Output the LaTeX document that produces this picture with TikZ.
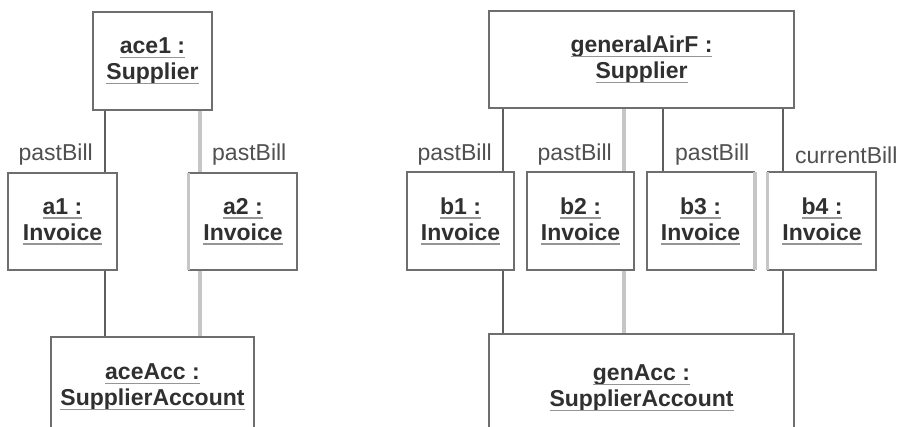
\documentclass[tikz,border=0pt]{standalone}
\usepackage{fontspec}
\setmainfont{Liberation Sans}

\definecolor{boxline}{HTML}{6E6E6E}
\definecolor{darkconn}{HTML}{5E5E5E}
\definecolor{lightconn}{HTML}{C6C6C6}
\definecolor{ink}{HTML}{303030}
\definecolor{labelink}{HTML}{505050}
\definecolor{ulcol}{HTML}{959595}

% object name with a grey underline
\newcommand\objname[1]{\setbox0\hbox{#1}\rlap{\copy0}{\color{ulcol}\rule[-4.5pt]{\wd0}{1.3pt}}}

\tikzset{
  objbox/.style={draw=boxline, line width=1.5pt, fill=white, inner sep=0pt,
    align=center, text=ink, font=\bfseries\fontsize{23}{26}\selectfont},
  darkline/.style={draw=darkconn, line width=1.5pt},
  lightline/.style={draw=lightconn, line width=4pt},
  lightedge/.style={draw=lightconn, line width=3.5pt},
  rolelabel/.style={text=labelink, inner sep=0pt, font=\fontsize{23}{26}\selectfont}
}

\begin{document}
\begin{tikzpicture}[x=1pt, y=-1pt]
\useasboundingbox (0,0) rectangle (902,427);
\clip (0,0) rectangle (902,427);
\fill[white] (0,0) rectangle (902,427);

% ---- supplier ace1 and its invoices
\node[objbox, minimum width=119pt, minimum height=98pt] (ace1) at (152.5,61) {\objname{ace1 :}\\\objname{Supplier}};
\node[objbox, minimum width=109pt, minimum height=97pt] (a1) at (62.5,221.5) {\objname{a1 :}\\\objname{Invoice}};
\node[objbox, minimum width=108pt, minimum height=97pt] (a2) at (243,221.5) {\objname{a2 :}\\\objname{Invoice}};
\node[objbox, minimum width=203pt, minimum height=100pt] (aceAcc) at (152.5,387) {\objname{aceAcc :}\\\objname{SupplierAccount}};

% ---- supplier generalAirF and its invoices
\node[objbox, minimum width=305pt, minimum height=97pt] (gen) at (641.5,59.5) {\objname{generalAirF :}\\\objname{Supplier}};
\node[objbox, minimum width=107pt, minimum height=98pt] (b1) at (460.5,221) {\objname{b1 :}\\\objname{Invoice}};
\node[objbox, minimum width=107pt, minimum height=98pt] (b2) at (580.5,221) {\objname{b2 :}\\\objname{Invoice}};
\node[objbox, minimum width=107pt, minimum height=98pt] (b3) at (700.5,221) {\objname{b3 :}\\\objname{Invoice}};
\node[objbox, minimum width=108pt, minimum height=98pt] (b4) at (822,221) {\objname{b4 :}\\\objname{Invoice}};
\node[objbox, minimum width=305pt, minimum height=108pt] (genAcc) at (641.5,388) {\objname{genAcc :}\\\objname{SupplierAccount}};

% light box edges
\draw[lightedge] ([shift={(0,1)}]a2.north west) -- ([shift={(0,-1)}]a2.south west);
\draw[lightedge] ([shift={(0,1)}]b3.north east) -- ([shift={(0,-1)}]b3.south east);
\draw[lightedge] ([shift={(0,1)}]b4.north west) -- ([shift={(0,-1)}]b4.south west);

% connector columns
\coordinate (ca) at (105,0);
\coordinate (cb) at (200,0);
\coordinate (c1) at (503,0);
\coordinate (c2) at (624,0);
\coordinate (c3) at (663,0);
\coordinate (c4) at (783,0);

\draw[darkline]  (ace1.south -| ca) -- (a1.north -| ca);
\draw[lightline] (ace1.south -| cb) -- (a2.north -| cb);
\draw[darkline]  (a1.south -| ca) -- (aceAcc.north -| ca);
\draw[lightline] (a2.south -| cb) -- (aceAcc.north -| cb);

\draw[darkline]  (gen.south -| c1) -- (b1.north -| c1);
\draw[lightline] (gen.south -| c2) -- (b2.north -| c2);
\draw[darkline]  (gen.south -| c3) -- (b3.north -| c3);
\draw[darkline]  (gen.south -| c4) -- (b4.north -| c4);
\draw[darkline]  (b1.south -| c1) -- (genAcc.north -| c1);
\draw[lightline] (b2.south -| c2) -- (genAcc.north -| c2);
\draw[darkline]  (b4.south -| c4) -- (genAcc.north -| c4);

% role labels
\node[rolelabel, anchor=east] (l1) at (93,155) {pastBill};
\node[rolelabel, anchor=west] (l2) at (212,155) {pastBill};
\node[rolelabel, anchor=east] (l3) at (492,155) {pastBill};
\node[rolelabel, anchor=east] (l4) at (612,155) {pastBill};
\node[rolelabel, anchor=west] (l5) at (675,155) {pastBill};
\node[rolelabel, anchor=west] (l6) at (795,155) {currentBill};
\end{tikzpicture}
\end{document}
